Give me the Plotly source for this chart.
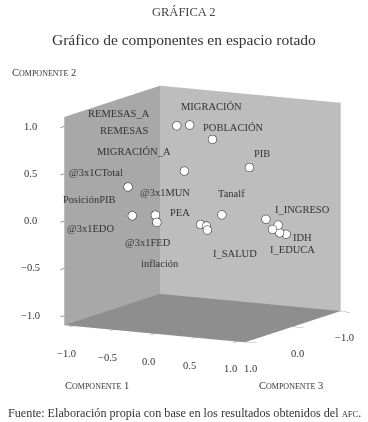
import plotly.graph_objects as go
import math

# ---- data (rotated component loadings) ----
variables = ["MIGRACIÓN", "REMESAS", "POBLACIÓN", "MIGRACIÓN_A", "PIB",
             "@3x1CTotal", "@3x1EDO", "@3x1MUN", "@3x1FED",
             "PEA", "inflación", "I_SALUD", "Tanalf",
             "I_INGRESO", "PosiciónPIB", "I_EDUCA", "REMESAS_A", "IDH"]
componente1 = [-0.20, -0.10, 0.12, -0.05, 0.57,
               -0.45, -0.37, -0.06, -0.03,
               0.09, 0.19, 0.23, 0.12,
               0.80, 0.92, 0.88, 0.91, 0.96]
componente2 = [0.95, 0.95, 0.80, 0.50, 0.54,
               0.38, 0.09, 0.13, 0.06,
               -0.07, -0.07, -0.10, -0.03,
               0.02, -0.04, -0.08, -0.13, -0.15]
componente3 = [0.20, 0.10, 0.00, 0.30, 0.00,
               0.80, 0.85, 0.90, 0.92,
               0.20, 0.25, 0.30, -0.20,
               0.05, 0.00, 0.05, -0.05, -0.10]

tick_vals_12 = [-1.0, -0.5, 0.0, 0.5, 1.0]
tick_vals_3 = [-1.0, 0.0, 1.0]

# axis ranges
range_c1 = [-1.1, 1.1]
range_c2 = [-1.1, 1.1]
range_c3 = [1.02, -1.02]   # reversed: positive values toward the viewer

# label offsets in pixels (label centre relative to its point)
label_dx = [35, -65, 21, -50, 13, -32, -42, 10, -9, -20, -46, 28, 10, 37, -189, 20, -161, 16]
label_dy = [-19, 6, -11, -19, -13, -14, 13, -22, 21, -11, 38, 24, -21, -9, -25, 21, -119, 4]

SERIF = "Liberation Serif"
TXT = "#333333"


def fmt(v):
    return f"{v:.1f}".replace("-", "\u2212")


fig = go.Figure()
fig.add_trace(go.Scatter3d(
    x=componente1, y=componente3, z=componente2,
    mode="markers", text=variables, hoverinfo="text",
    marker=dict(size=5, color="white", symbol="circle",
                line=dict(color="#222222", width=1.2)),
    showlegend=False,
))

annots = []
for name, a, b, c, dx, dy in zip(variables, componente1, componente3, componente2, label_dx, label_dy):
    annots.append(dict(x=a, y=b, z=c, text=name, showarrow=False,
                       xanchor="center", yanchor="middle",
                       xshift=dx, yshift=-dy,
                       font=dict(family=SERIF, size=10.5, color=TXT)))

tickfont = dict(family=SERIF, size=10.5, color=TXT)
# tick labels placed along the box edges
for v in tick_vals_12:   # componente 1 (front bottom edge)
    annots.append(dict(x=v, y=range_c3[0], z=range_c2[0], text=fmt(v), showarrow=False,
                       xanchor="center", yanchor="middle", xshift=-6, yshift=-28, font=tickfont))
for v in tick_vals_3:    # componente 3 (right bottom edge)
    annots.append(dict(x=range_c1[1], y=v, z=range_c2[0], text=fmt(v), showarrow=False,
                       xanchor="center", yanchor="middle", xshift=5, yshift=-27, font=tickfont))
for v in tick_vals_12:   # componente 2 (front left edge)
    annots.append(dict(x=range_c1[0], y=range_c3[0], z=v, text=fmt(v), showarrow=False,
                       xanchor="center", yanchor="middle", xshift=-34, yshift=0, font=tickfont))

# camera direction
az = math.radians(-61.65)
el = math.radians(10.14)
r = 1.8
eye = dict(x=r * math.cos(el) * math.cos(az), y=r * math.cos(el) * math.sin(az), z=r * math.sin(el))

# the library's own tick labels are kept (so that tick marks are drawn) but made tiny and white
axis_common = dict(showgrid=False, zeroline=False, showline=False, showspikes=False,
                   ticks="outside", tickcolor="#333333", tickwidth=1,
                   showticklabels=True, tickformat=".1f", tickangle=0,
                   tickfont=dict(family=SERIF, size=3, color="white"),
                   title=dict(text=""),
                   showbackground=True)

k = 1.215
fig.update_layout(
    width=368, height=422,
    margin=dict(l=0, r=0, t=0, b=0),
    paper_bgcolor="white",
    scene=dict(
        domain=dict(x=[0.10, 1.0], y=[0.094, 0.894]),
        xaxis=dict(axis_common, range=range_c1, tickvals=tick_vals_12, ticklen=12,
                   backgroundcolor="#a8a8a8"),
        yaxis=dict(axis_common, range=range_c3, autorange=False, tickvals=tick_vals_3,
                   ticklen=8, backgroundcolor="#bdbdbd"),
        zaxis=dict(axis_common, range=range_c2, tickvals=tick_vals_12, ticklen=14,
                   backgroundcolor="#8e8e8e"),
        aspectmode="manual", aspectratio=dict(x=1.0 * k, y=0.983 * k, z=1.03 * k),
        camera=dict(eye=eye, up=dict(x=0, y=0, z=1), center=dict(x=0, y=0, z=0),
                    projection=dict(type="orthographic")),
        annotations=annots,
    ),
    annotations=[
        dict(text="GRÁFICA 2", x=0.5, y=1 - 12 / 422, xref="paper", yref="paper",
             xanchor="center", yanchor="middle",
             showarrow=False, font=dict(family=SERIF, size=12.5, color="#444444")),
        dict(text="Gráfico de componentes en espacio rotado", x=0.5, y=1 - 40 / 422,
             xref="paper", yref="paper", xanchor="center", yanchor="middle", showarrow=False,
             font=dict(family=SERIF, size=15.5, color=TXT)),
        dict(text="C<span style='font-size:8px'>OMPONENTE</span> 2", x=10 / 368, y=1 - 72 / 422,
             xref="paper", yref="paper", xanchor="left", yanchor="middle", showarrow=False,
             font=dict(family=SERIF, size=10.5, color=TXT)),
        dict(text="C<span style='font-size:8px'>OMPONENTE</span> 1", x=63 / 368, y=1 - 385 / 422,
             xref="paper", yref="paper", xanchor="left", yanchor="middle", showarrow=False,
             font=dict(family=SERIF, size=10.5, color=TXT)),
        dict(text="C<span style='font-size:8px'>OMPONENTE</span> 3", x=257 / 368, y=1 - 385 / 422,
             xref="paper", yref="paper", xanchor="left", yanchor="middle", showarrow=False,
             font=dict(family=SERIF, size=10.5, color=TXT)),
        dict(text="Fuente: Elaboración propia con base en los resultados obtenidos del <span style='font-size:8.5px'>AFC</span>.",
             x=0.5, y=1 - 413 / 422, xref="paper", yref="paper", xanchor="center", yanchor="middle",
             showarrow=False, font=dict(family=SERIF, size=12.2, color=TXT)),
    ],
)

fig.write_html("out.html", config={"displayModeBar": False},
               post_script="document.body.style.margin='0';")
